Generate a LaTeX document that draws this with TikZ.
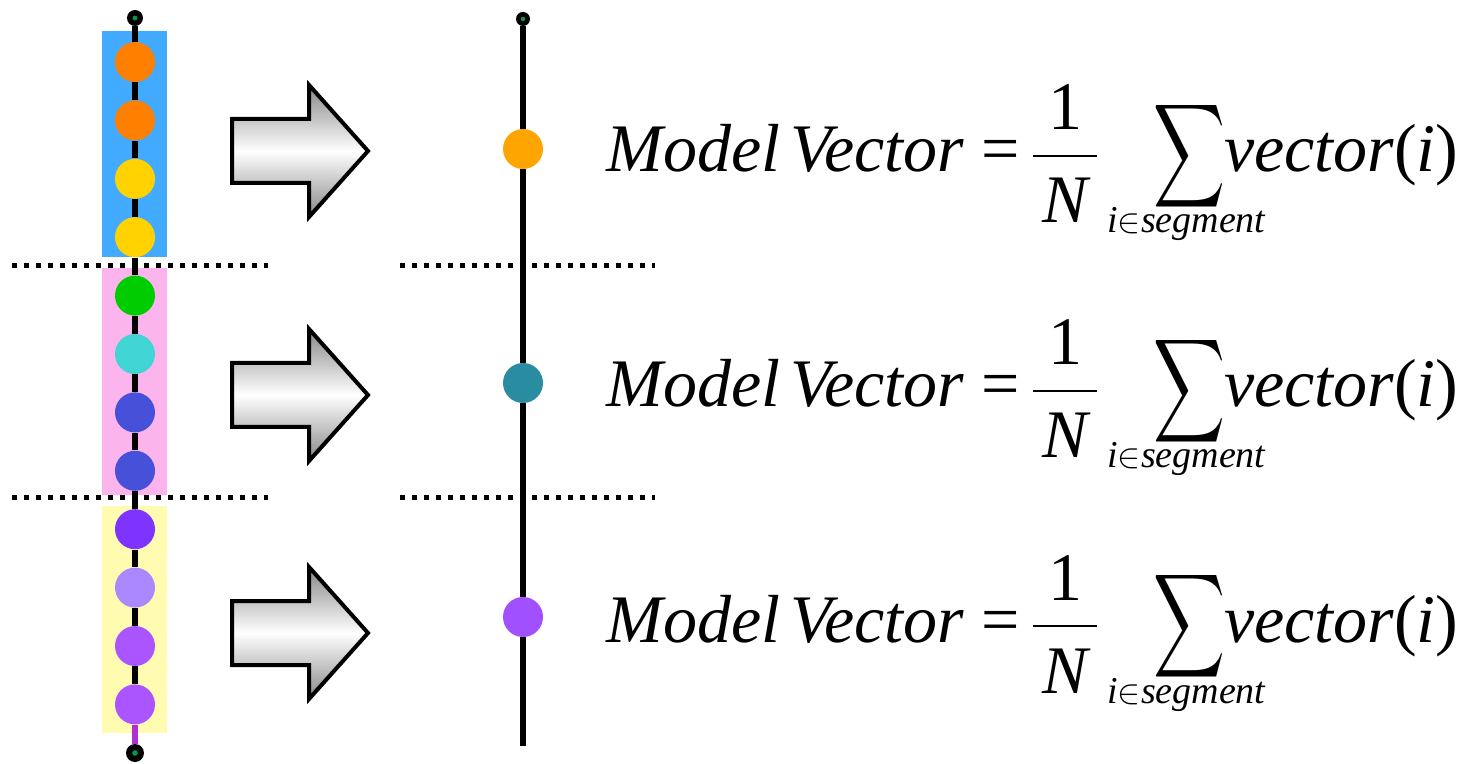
\documentclass[tikz,border=0pt]{standalone}
\usepackage{fontspec}
\setmainfont{Liberation Serif}
\usepackage{graphicx}
\definecolor{rblue}{HTML}{42AAFF}
\definecolor{rpink}{HTML}{FBB4EC}
\definecolor{ryellow}{HTML}{FFFBB0}
\definecolor{corange}{HTML}{FF7F00}
\definecolor{cgold}{HTML}{FFD200}
\definecolor{cgreen}{HTML}{00CC00}
\definecolor{ccyan}{HTML}{40D4D4}
\definecolor{cblue}{HTML}{4650D8}
\definecolor{cviolet}{HTML}{7F33FF}
\definecolor{clav}{HTML}{AA88FF}
\definecolor{cpurple}{HTML}{AA55FF}
\definecolor{rorange}{HTML}{FFA500}
\definecolor{rteal}{HTML}{2A8CA0}
\definecolor{rpurple}{HTML}{A050FF}
\definecolor{linkpurple}{HTML}{B030D0}
\definecolor{arrowgray}{RGB}{135,135,135}
\definecolor{dotgreen}{HTML}{009955}
\tikzset{
  ball/.style={circle, fill=#1, minimum size=20pt, inner sep=0pt},
  enddot/.style={circle, fill=black, minimum size=8pt, inner sep=0pt},
  link/.style={line width=3pt, black},
  dotline/.style={line width=2.5pt, dash pattern=on 2.5pt off 3.5pt},
  bigarrow/.style={draw=black, line width=2pt, line join=miter, top color=arrowgray, bottom color=arrowgray, middle color=white},
  ftext/.style={font=\fontsize{34}{36}\selectfont\itshape, inner sep=0pt},
  fup/.style={font=\fontsize{34}{36}\selectfont, inner sep=0pt},
  stext/.style={font=\fontsize{19}{21}\selectfont\itshape, inner sep=0pt},
}
\begin{document}
\begin{tikzpicture}[x=0.5pt, y=-0.5pt]
\useasboundingbox (0,0) rectangle (1473,764);
% background strips
\fill[rblue] (102,31) rectangle (167,257);
\fill[rpink] (102,268) rectangle (167,495);
\fill[ryellow] (102,506) rectangle (167,733);
% dotted separators
\coordinate (dla) at (12,266); \coordinate (dlb) at (268,266);
\coordinate (dlc) at (12,498); \coordinate (dld) at (268,498);
\coordinate (dra) at (400,266); \coordinate (drb) at (655,266);
\coordinate (drc) at (400,498); \coordinate (drd) at (655,498);
\draw[dotline] (dla) -- (dlb);
\draw[dotline] (dlc) -- (dld);
\draw[dotline] (dra) -- (drb);
\draw[dotline] (drc) -- (drd);
% left chain
\node[enddot] (topL) at (135,18) {};
\node[enddot, minimum size=9pt] (botL) at (135,753) {};
\foreach \i/\c in {1/corange,2/corange,3/cgold,4/cgold,5/cgreen,6/ccyan,7/cblue,8/cblue,9/cviolet,10/clav,11/cpurple,12/cpurple}{
  \node[ball=\c] (l\i) at (135,{62+58.4*(\i-1)}) {};
}
\draw[link] (topL) -- (l1);
\foreach \i [evaluate=\i as \j using int(\i+1)] in {1,...,11}{
  \draw[link] (l\i) -- (l\j);
}
\draw[link, linkpurple] (l12) -- (botL);
\fill[dotgreen] (topL) circle (1.2pt);
\fill[dotgreen] (botL) circle (1.4pt);
% arrows
\foreach \k/\cy in {1/151, 2/395, 3/633}{
  \path[bigarrow] (232,\cy-32) -- (309,\cy-32) -- (309,\cy-66) -- (368,\cy) -- (309,\cy+66) -- (309,\cy+32) -- (232,\cy+32) -- cycle;
}
% right chain
\node[enddot, minimum size=7pt] (topR) at (523,19) {};
\coordinate (endR) at (523,746);
\node[ball=rorange] (r1) at (523,149) {};
\node[ball=rteal] (r2) at (523,383) {};
\node[ball=rpurple] (r3) at (523,617) {};
\draw[link] (topR) -- (r1);
\draw[link] (r1) -- (r2);
\draw[link] (r2) -- (r3);
\draw[link] (r3) -- (endR);
\fill[dotgreen] (topR) circle (1.1pt);
% formulas
\foreach \r/\b in {1/172, 2/407, 3/642}{
  \node[ftext, anchor=base west] (model\r) at (606,\b) {Model};
  \node[ftext, anchor=base west] (vect\r) at (790,\b) {Vector};
  \node[fup, anchor=base] (eq\r) at (1001,\b) {=};
  \node[fup, anchor=base] (one\r) at (1065,\b-42) {1};
  \coordinate (barA\r) at (1033,\b-16);
  \coordinate (barB\r) at (1097,\b-16);
  \draw[line width=1.4pt] (barA\r) -- (barB\r);
  \node[ftext, anchor=base] (nn\r) at (1065,\b+51) {N};
  \node[inner sep=0pt] (sum\r) at (1189,\b-16) {\resizebox*{36pt}{58pt}{$\displaystyle\sum$}};
  \node[ftext, anchor=base west] (vv\r) at (1224,\b) {vector\upshape(\itshape i\upshape)};
  \node[stext, anchor=base west] (sub\r) at (1107,\b+61) {i$\in$segment};
}
\end{tikzpicture}
\end{document}
